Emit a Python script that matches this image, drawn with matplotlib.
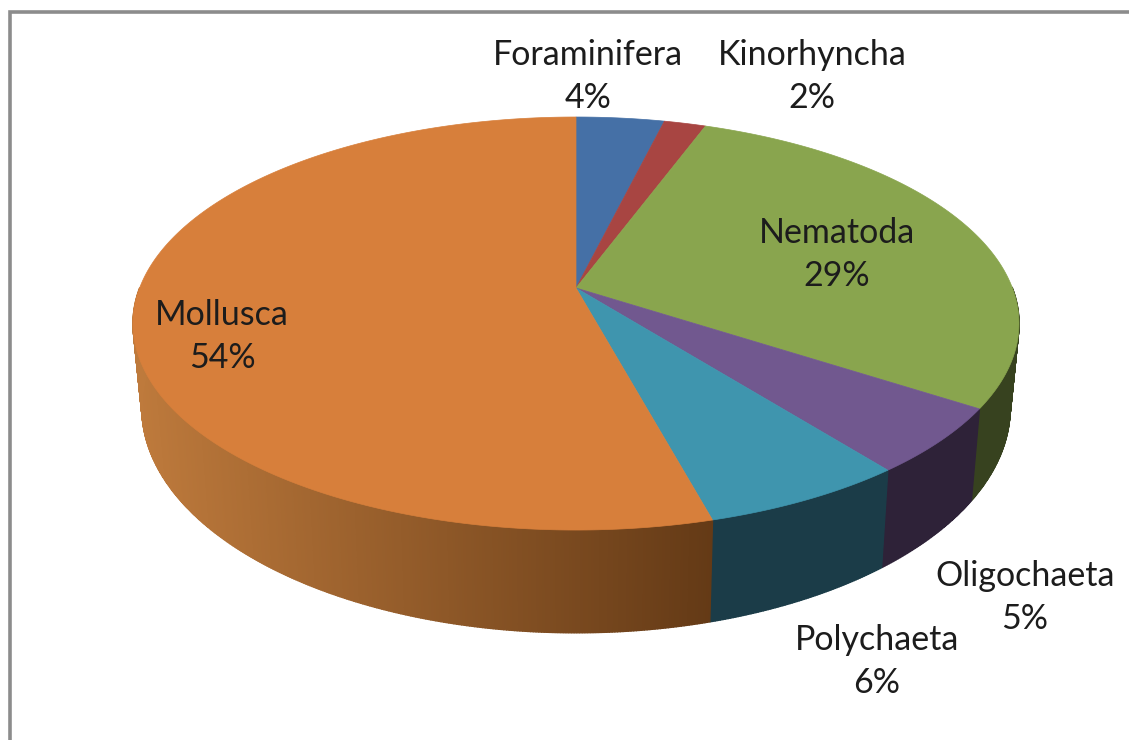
import numpy as np
import matplotlib
matplotlib.use('Agg')
import matplotlib.pyplot as plt
from matplotlib.patches import Polygon

# share of each group, clockwise from the top
groups = ['Foraminifera', 'Kinorhyncha', 'Nematoda', 'Oligochaeta', 'Polychaeta', 'Mollusca']
values = [3.8, 1.8, 28.6, 5.2, 6.4, 54.2]

top_colors = ['#4570a6', '#a84542', '#89a54e', '#71588f', '#3f95ae', '#d77f3b']
side_colors = ['#22384f', '#521f1e', '#37421f', '#2e2238', '#1b3c48', None]

# label centres in pixels (name line, percent line is below it)
label_pos = [(588, 55), (812, 55), (837, 233), (1025, 576), (877, 640), (222, 315)]

# perspective of the pie top, pixel units
cx, cy = 576, 288
rx, ry, persp = 436.4, 200.4, 0.172


def top_xy(theta):
    u, v = np.sin(theta), -np.cos(theta)
    d = 1 - persp * v
    return cx + rx * u / d, cy + ry * v / d


def bottom_xy(theta):
    x, y = top_xy(theta)
    return cx + 0.98 * (x - cx), 1.089 * y + 55.6


def mollusca_side(x):
    # lighter on the left, dark at the right end of the wall
    f = np.clip((x - 133) / (712 - 133), 0, 1)
    light = np.array([190, 122, 60]) / 255
    dark = np.array([100, 58, 22]) / 255
    return tuple(light + (dark - light) * f)


fig = plt.figure(figsize=(11.29, 7.40), dpi=100)
ax = fig.add_axes([0, 0, 1, 1])
ax.set_xlim(0, 1129)
ax.set_ylim(740, 0)
ax.axis('off')

# chart frame, only top and left are in the picture
ax.plot([9.5, 9.5, 1129], [740, 11.5, 11.5], color='#8c8c8c', lw=2.6, solid_joinstyle='miter')

edges = np.cumsum([0] + values) / 100 * 2 * np.pi

# side walls first, only the front half of the rim shows
for i in range(len(values)):
    th = np.linspace(edges[i], edges[i + 1], max(int(values[i] * 12), 4))
    tx, ty = top_xy(th)
    bx, by = bottom_xy(th)
    for j in range(len(th) - 1):
        if np.cos(th[j]) > 0 and np.cos(th[j + 1]) > 0:
            continue
        pts = [(tx[j], ty[j]), (tx[j + 1], ty[j + 1]), (bx[j + 1], by[j + 1]), (bx[j], by[j])]
        c = side_colors[i]
        if c is None:
            c = mollusca_side((tx[j] + tx[j + 1]) / 2)
        ax.add_patch(Polygon(pts, closed=True, fc=c, ec=c, lw=1.0))

# top face
for i in range(len(values)):
    th = np.linspace(edges[i], edges[i + 1], max(int(values[i] * 12), 4))
    tx, ty = top_xy(th)
    pts = [(cx, cy)] + list(zip(tx, ty))
    ax.add_patch(Polygon(pts, closed=True, fc=top_colors[i], ec=top_colors[i], lw=0.5))

for name, val, (lx, ly) in zip(groups, values, label_pos):
    ax.text(lx, ly, name, ha='center', va='center', fontsize=24.5, family='Lato', color='#1c1c1c')
    ax.text(lx, ly + 43, f'{val:.0f}%', ha='center', va='center', fontsize=24.5, family='Lato', color='#1c1c1c')

fig.savefig('out.png', dpi=100)
